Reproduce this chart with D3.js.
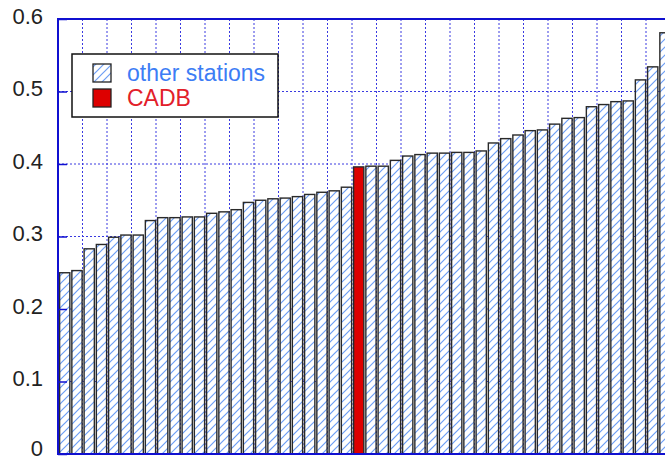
<!DOCTYPE html>
<html>
<head>
<meta charset="utf-8">
<script src="https://cdn.jsdelivr.net/npm/d3@7"></script>
<style>
  body { margin: 0; background: #fff; }
  svg { display: block; font-family: "Liberation Sans", Arial, sans-serif; }
</style>
</head>
<body>
<svg id="chart" width="665" height="461"></svg>
<script>
// station values, sorted ascending; CADB is the highlighted one
const values = [
  0.250, 0.253, 0.283, 0.289, 0.299, 0.302, 0.302, 0.322, 0.326, 0.326,
  0.327, 0.327, 0.332, 0.334, 0.337, 0.347, 0.350, 0.352, 0.353, 0.355,
  0.358, 0.361, 0.363, 0.368, 0.396, 0.397, 0.397, 0.405, 0.411, 0.413,
  0.415, 0.415, 0.416, 0.416, 0.418, 0.429, 0.435, 0.440, 0.446, 0.447,
  0.455, 0.463, 0.464, 0.479, 0.482, 0.486, 0.487, 0.516, 0.534, 0.581
];
const highlightIndex = 24;
const yTicks = [0, 0.1, 0.2, 0.3, 0.4, 0.5, 0.6];
const legendLabels = ['other stations', 'CADB'];

const marginLeft = 58, plotTop = 19, plotBottom = 454;
const step = 12.25;

const svg = d3.select('#chart');

const xScale = d3.scaleLinear()
    .domain([0, values.length])
    .range([marginLeft, marginLeft + values.length * step]);

const yScale = d3.scaleLinear()
    .domain([0, 0.6])
    .range([plotBottom, plotTop]);

// hatch pattern
const defs = svg.append('defs');
const pat = defs.append('pattern')
    .attr('id', 'hatch')
    .attr('patternUnits', 'userSpaceOnUse')
    .attr('width', 8)
    .attr('height', 8);
pat.append('rect').attr('width', 8).attr('height', 8).attr('fill', '#fff');
pat.append('path')
    .attr('d', 'M-2,2 L2,-2 M0,8 L8,0 M6,10 L10,6')
    .attr('stroke', '#6d9ef5')
    .attr('stroke-width', 1.2);

// grid lines
const gridColor = '#3a3ae0';
svg.append('g')
    .selectAll('line')
    .data(yTicks.slice(1))
    .join('line')
    .attr('x1', marginLeft).attr('x2', xScale(values.length))
    .attr('y1', (d) => yScale(d)).attr('y2', (d) => yScale(d))
    .attr('stroke', gridColor)
    .attr('stroke-width', 1)
    .attr('stroke-dasharray', '2,2');

const vGrid = d3.range(2, values.length, 2);
svg.append('g')
    .selectAll('line')
    .data(vGrid)
    .join('line')
    .attr('x1', (d) => xScale(d)).attr('x2', (d) => xScale(d))
    .attr('y1', plotTop).attr('y2', plotBottom)
    .attr('stroke', gridColor)
    .attr('stroke-width', 1)
    .attr('stroke-dasharray', '2,2');

// bars
svg.append('g')
    .selectAll('rect')
    .data(values)
    .join('rect')
    .attr('x', (d, i) => xScale(i) + 1.6)
    .attr('y', (d) => yScale(d))
    .attr('width', step - 2)
    .attr('height', (d) => yScale(0) - yScale(d))
    .attr('fill', (d, i) => i === highlightIndex ? '#dd0000' : 'url(#hatch)')
    .attr('stroke', '#2a2a2a')
    .attr('stroke-width', 1.4);

// frame
svg.append('rect')
    .attr('x', marginLeft).attr('y', plotTop)
    .attr('width', xScale(values.length) - marginLeft)
    .attr('height', plotBottom - plotTop)
    .attr('fill', 'none')
    .attr('stroke', '#1010d0')
    .attr('stroke-width', 2);

// y axis
const yAxis = d3.axisLeft(yScale)
    .tickValues(yTicks)
    .tickFormat((v) => v === 0 ? '0' : d3.format('.1f')(v))
    .tickSizeInner(-9)
    .tickSizeOuter(0)
    .tickPadding(15);
const yAxisGroup = svg.append('g')
    .attr('transform', `translate(${marginLeft},0)`)
    .call(yAxis);
yAxisGroup.select('.domain').remove();
yAxisGroup.selectAll('line').attr('stroke', '#1010d0').attr('stroke-width', 1.5);
yAxisGroup.selectAll('text')
    .attr('fill', '#222')
    .attr('dy', (v) => v === 0 ? '0.08em' : '0.2em')
    .attr('font-size', '22px')
    .attr('font-family', '"Liberation Sans", Arial, sans-serif');

// legend
const legend = svg.append('g');
legend.append('rect')
    .attr('x', 72).attr('y', 54)
    .attr('width', 206).attr('height', 63)
    .attr('fill', '#fff')
    .attr('stroke', '#111')
    .attr('stroke-width', 1.5);
const legendFill = ['url(#hatch)', '#dd0000'];
const legendColor = ['#3d7df5', '#e2202a'];
legendLabels.forEach((label, i) => {
    legend.append('rect')
        .attr('x', 93).attr('y', 64 + i * 25)
        .attr('width', 18).attr('height', 18)
        .attr('fill', legendFill[i])
        .attr('stroke', '#222')
        .attr('stroke-width', 1.3);
    legend.append('text')
        .attr('x', 127).attr('y', 81 + i * 25)
        .attr('font-size', '23px')
        .attr('fill', legendColor[i])
        .text(label);
});
</script>
</body>
</html>
